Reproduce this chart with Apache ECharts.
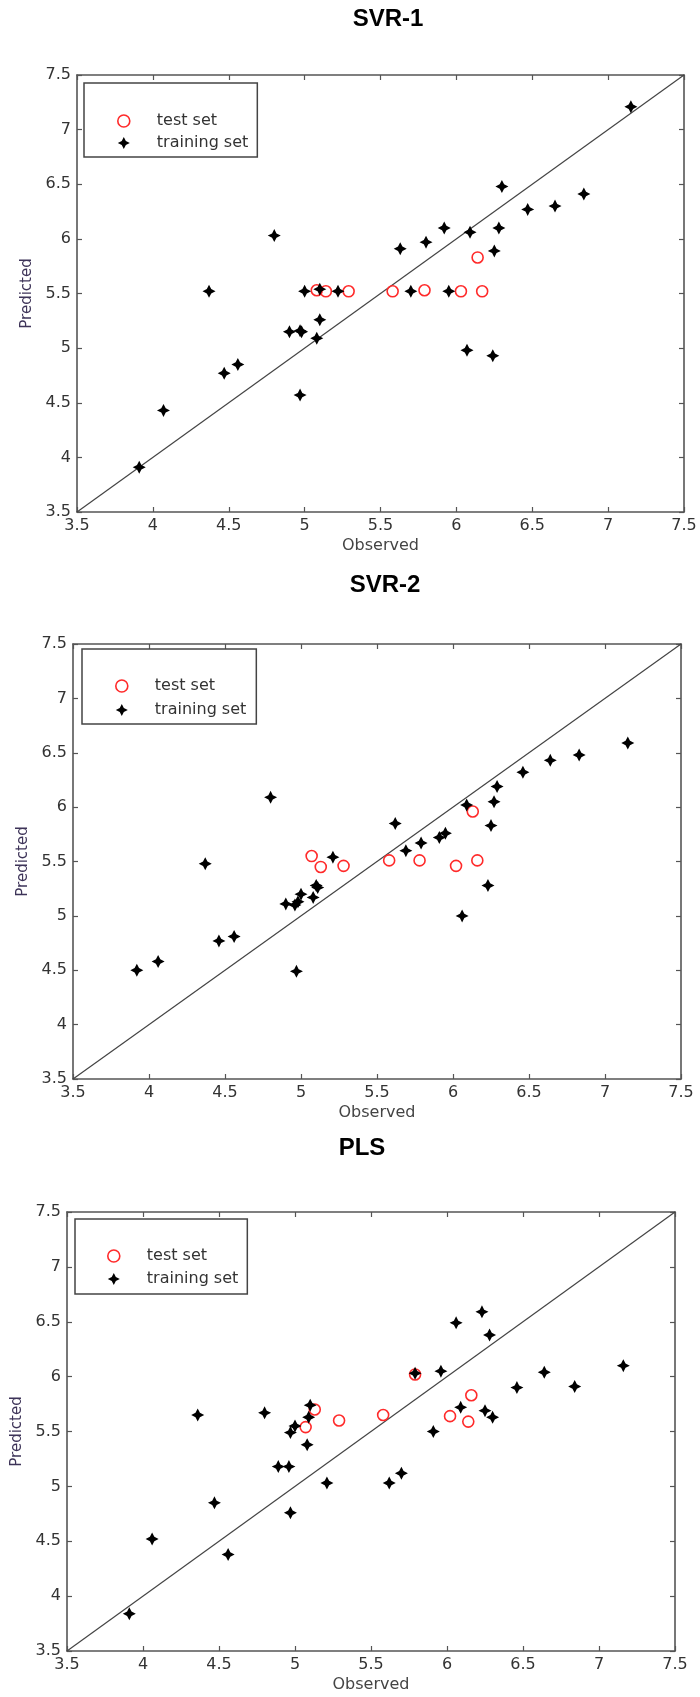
<!DOCTYPE html>
<html><head><meta charset="utf-8">
<script src="https://cdn.jsdelivr.net/npm/echarts@6/dist/echarts.min.js"></script>
<style>html,body{margin:0;padding:0;background:#fff}#c{width:700px;height:1697px}</style>
</head><body><div id="c"></div><script>
// ---- data ----
const chartTitles = ['SVR-1', 'SVR-2', 'PLS'];
const legendNames = ['test set', 'training set'];
const axisMin = 3.5, axisMax = 7.5, axisStep = 0.5;
const diagonal = [[3.5, 3.5], [7.5, 7.5]];

const svr1TrainObs  = [3.91,4.07,4.37,4.47,4.56,4.80,4.90,4.97,4.98,4.97,5.00,5.08,5.10,5.10,5.22,5.63,5.70,5.80,5.92,5.95,6.07,6.09,6.24,6.25,6.28,6.30,6.47,6.65,6.84,7.15];
const svr1TrainPred = [3.91,4.43,5.52,4.77,4.85,6.03,5.15,5.16,5.15,4.57,5.52,5.09,5.54,5.26,5.52,5.91,5.52,5.97,6.10,5.52,4.98,6.06,4.93,5.89,6.10,6.48,6.27,6.30,6.41,7.21];
const svr1TestObs   = [5.08,5.14,5.29,5.58,5.79,6.03,6.14,6.17];
const svr1TestPred  = [5.53,5.52,5.52,5.52,5.53,5.52,5.83,5.52];

const svr2TrainObs  = [3.92,4.06,4.37,4.46,4.56,4.80,4.90,4.96,4.98,5.00,4.97,5.08,5.10,5.11,5.21,5.62,5.69,5.79,5.91,5.95,6.06,6.09,6.23,6.25,6.27,6.29,6.46,6.64,6.83,7.15];
const svr2TrainPred = [4.50,4.58,5.48,4.77,4.81,6.09,5.11,5.10,5.13,5.20,4.49,5.17,5.28,5.26,5.54,5.85,5.60,5.67,5.72,5.76,5.00,6.02,5.28,5.83,6.05,6.19,6.32,6.43,6.48,6.59];
const svr2TestObs   = [5.07,5.13,5.28,5.58,5.78,6.02,6.13,6.16];
const svr2TestPred  = [5.55,5.45,5.46,5.51,5.51,5.46,5.96,5.51];

const plsTrainObs   = [3.91,4.06,4.36,4.47,4.56,4.80,4.89,4.96,4.97,4.97,5.00,5.08,5.09,5.10,5.21,5.62,5.70,5.79,5.91,5.96,6.06,6.09,6.23,6.25,6.28,6.30,6.46,6.64,6.84,7.16];
const plsTrainPred  = [3.84,4.52,5.65,4.85,4.38,5.67,5.18,5.18,4.76,5.49,5.55,5.38,5.63,5.74,5.03,5.03,5.12,6.03,5.50,6.05,6.49,5.72,6.59,5.69,6.38,5.63,5.90,6.04,5.91,6.10];
const plsTestObs    = [5.07,5.13,5.29,5.58,5.79,6.02,6.14,6.16];
const plsTestPred   = [5.54,5.70,5.60,5.65,6.02,5.64,5.59,5.83];

const panels = [
  {trainObs: svr1TrainObs, trainPred: svr1TrainPred, testObs: svr1TestObs, testPred: svr1TestPred},
  {trainObs: svr2TrainObs, trainPred: svr2TrainPred, testObs: svr2TestObs, testPred: svr2TestPred},
  {trainObs: plsTrainObs,  trainPred: plsTrainPred,  testObs: plsTestObs,  testPred: plsTestPred}
];

// ---- layout ----
const grids = [
  {left: 77, top: 75,   width: 607, height: 437},
  {left: 73, top: 644,  width: 608, height: 435},
  {left: 67, top: 1212, width: 608, height: 439}
];
const titlePos = [{x: 388, y: 7}, {x: 385, y: 573}, {x: 362, y: 1136}];
const legendPos = [
  {left: 84, top: 83,   pad: [30, 9, 6, 33], gap: 6},
  {left: 82, top: 649,  pad: [29, 10, 6, 33], gap: 8},
  {left: 75, top: 1219, pad: [29, 9, 7, 32], gap: 7}
];

const zip = (a, b) => a.map((v, i) => [v, b[i]]);
const starPath = 'path://M0,-10 L3.4,-3.4 L10,0 L3.4,3.4 L0,10 L-3.4,3.4 L-10,0 L-3.4,-3.4 Z';
const axisColor = '#555';
const labelFont = 'DejaVu Sans';

const xAxis = [], yAxis = [], series = [], title = [], legend = [];
grids.forEach((g, i) => {
  const base = {
    gridIndex: i, type: 'value', min: axisMin, max: axisMax, interval: axisStep,
    splitLine: {show: false},
    axisLine: {onZero: false, lineStyle: {color: axisColor, width: 1.6}},
    axisTick: {inside: true, length: 5, lineStyle: {color: axisColor, width: 1.2}}
  };
  xAxis.push(Object.assign({}, base, {
    position: 'bottom', name: 'Observed', nameLocation: 'middle', nameGap: 26,
    nameTextStyle: {color: '#444', fontSize: 16, fontFamily: labelFont},
    axisLabel: {color: '#333', fontSize: 16, fontFamily: labelFont, margin: 6}
  }));
  xAxis.push(Object.assign({}, base, {position: 'top', axisLabel: {show: false}}));
  yAxis.push(Object.assign({}, base, {
    position: 'left', name: 'Predicted', nameLocation: 'middle', nameGap: 40,
    nameTextStyle: {color: '#3d3358', fontSize: 15, fontFamily: labelFont},
    axisLabel: {color: '#333', fontSize: 16, fontFamily: labelFont, margin: 6}
  }));
  yAxis.push(Object.assign({}, base, {position: 'right', axisLabel: {show: false}}));

  const p = panels[i];
  series.push({
    type: 'line', xAxisIndex: 2 * i, yAxisIndex: 2 * i, data: diagonal,
    symbol: 'none', silent: true, z: 1,
    lineStyle: {color: '#444', width: 1.2}
  });
  series.push({
    type: 'scatter', name: legendNames[0], xAxisIndex: 2 * i, yAxisIndex: 2 * i,
    data: zip(p.testObs, p.testPred), symbol: 'circle', symbolSize: 11, z: 3,
    itemStyle: {color: 'rgba(0,0,0,0)', borderColor: '#ff2a2a', borderWidth: 1.6, opacity: 1}
  });
  series.push({
    type: 'scatter', name: legendNames[1], xAxisIndex: 2 * i, yAxisIndex: 2 * i,
    data: zip(p.trainObs, p.trainPred), symbol: starPath, symbolSize: 13, z: 4,
    itemStyle: {color: '#000', opacity: 1}
  });

  title.push({
    text: chartTitles[i], left: titlePos[i].x, top: titlePos[i].y, textAlign: 'center', padding: 0,
    textStyle: {fontFamily: 'Liberation Sans', fontWeight: 'bold', fontSize: 24, color: '#000'}
  });
  const L = legendPos[i];
  legend.push({
    left: L.left, top: L.top, orient: 'vertical', padding: L.pad, itemGap: L.gap,
    itemWidth: 56, itemHeight: 12, selectedMode: false,
    borderColor: '#444', borderWidth: 1.5, backgroundColor: '#fff',
    textStyle: {color: '#333', fontSize: 16, fontFamily: labelFont},
    data: [{name: legendNames[0], itemStyle: {borderWidth: 1.6}}, legendNames[1]]
  });
});

const chart = echarts.init(document.getElementById('c'), null, {renderer: 'canvas'});
chart.setOption({
  animation: false, backgroundColor: '#fff',
  title, legend, grid: grids, xAxis, yAxis, series
});
</script></body></html>
